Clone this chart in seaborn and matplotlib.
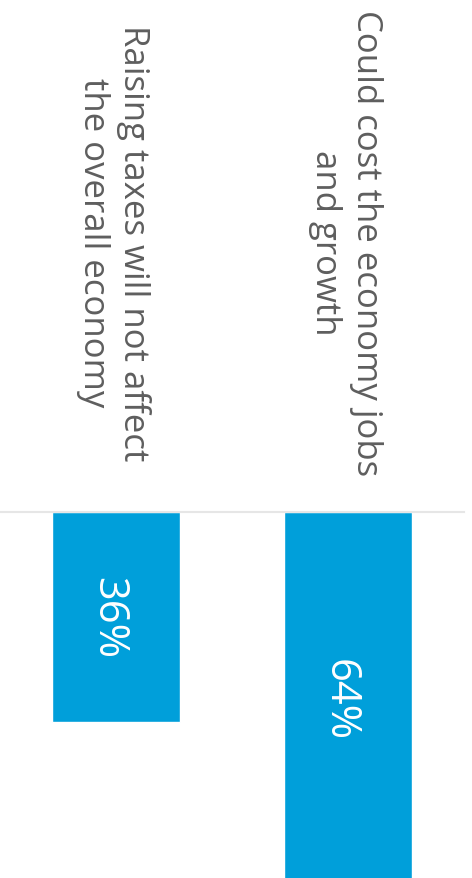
import pandas as pd
import seaborn as sns
import matplotlib.pyplot as plt

categories = ['Raising taxes will not affect\nthe overall economy',
              'Could cost the economy jobs\nand growth']
values = [36, 64]
labels = ['36%', '64%']

BLUE = '#009FDA'
GREY = '#5E5E5E'

sns.set_style('white')
plt.rcParams['font.family'] = ['Open Sans', 'DejaVu Sans']

df = pd.DataFrame({'answer': categories, 'share': values})

fig = plt.figure(figsize=(4.72, 8.79), dpi=100)
ax = fig.add_axes([0, 0, 464 / 472, 366 / 879])

sns.barplot(data=df, x='answer', y='share', color=BLUE, width=0.556,
            saturation=1, ax=ax)

ax.set_xlim(-0.5, 1.5)
ax.set_ylim(366 / 5.84, 0)   # bars hang down from the top line
ax.set_xticks([])
ax.set_yticks([])
ax.set_xlabel('')
ax.set_ylabel('')
for side in ['left', 'right', 'bottom']:
    ax.spines[side].set_visible(False)
ax.spines['top'].set_color('#E6E6E6')
ax.spines['top'].set_linewidth(1.5)

# percent labels inside the bars
for i, (v, lab) in enumerate(zip(values, labels)):
    ax.text(i - 0.035, v / 2, lab, rotation=270, ha='center', va='center',
            color='white', fontsize=30)

# category labels above the line
trans = ax.get_xaxis_transform()
for i, cat in enumerate(categories):
    ax.text(i - 0.01, 1 + 270 / 366, cat, transform=trans, rotation=270,
            ha='center', va='center', multialignment='center',
            color=GREY, fontsize=25, linespacing=1.25, clip_on=False)

fig.savefig('out.png', dpi=100)
